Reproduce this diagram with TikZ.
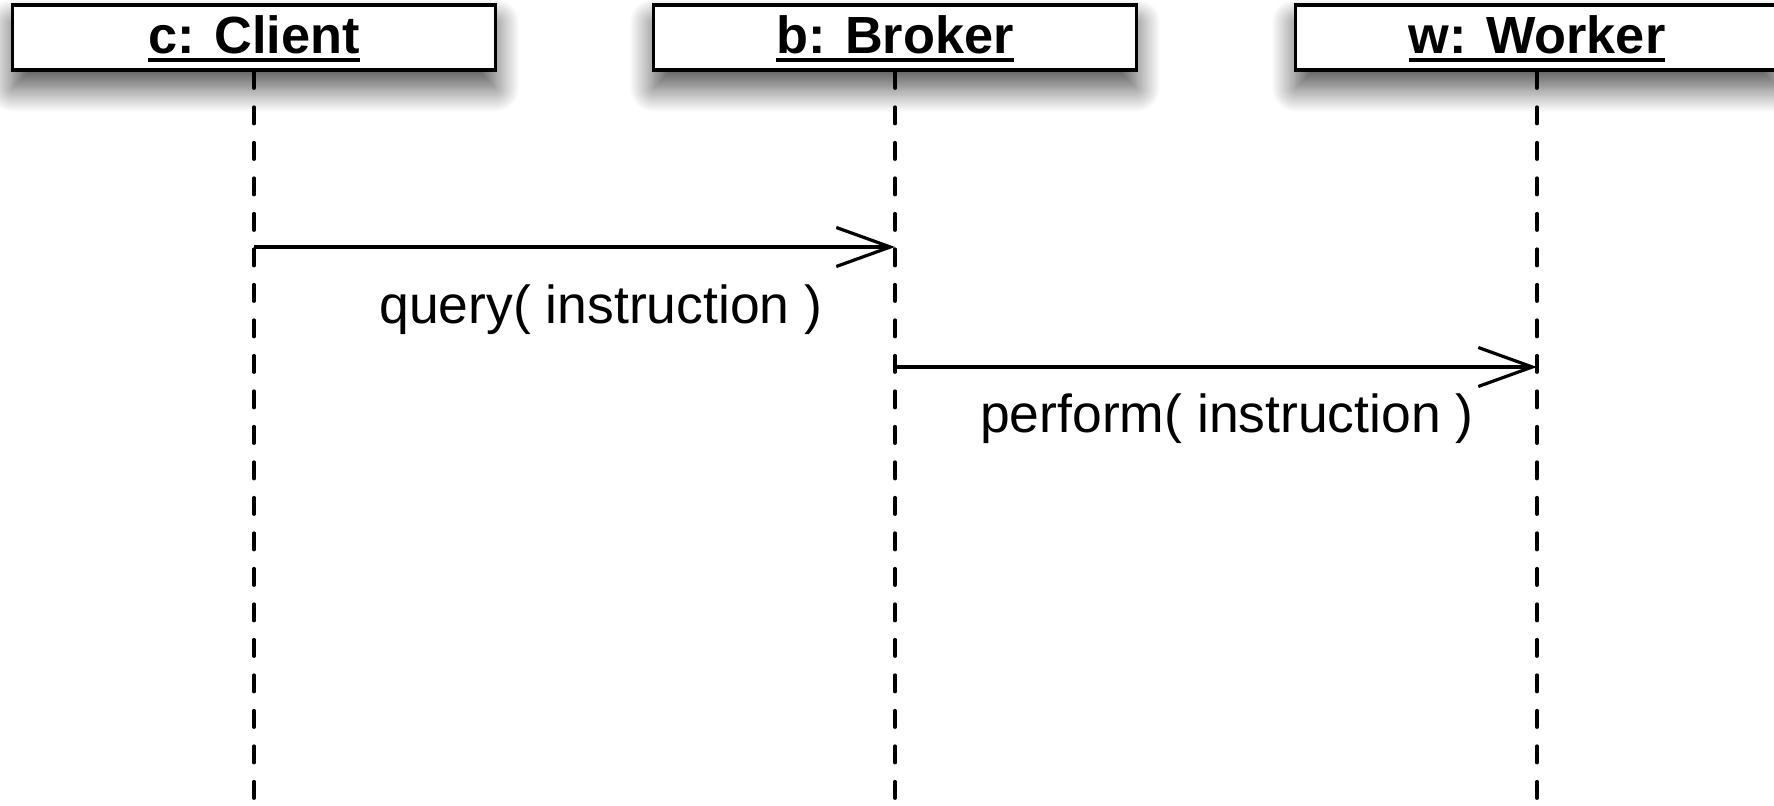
\documentclass[tikz,border=0pt]{standalone}
\usepackage{fontspec}
\setmainfont{Liberation Sans}
\usetikzlibrary{arrows.meta,shadows.blur}

% underlined object name, rule placed just below the baseline
\newcommand\objname[1]{\setbox0\hbox{#1}\leavevmode\rlap{\vrule height -2pt depth 4pt width \wd0}\box0}

\tikzset{
  object/.style={draw=black, line width=1.65pt, fill=white,
    minimum width=241.5pt, minimum height=32.5pt, inner sep=0pt,
    text height=20.5pt, text depth=4pt,
    font=\fontsize{26.15pt}{30pt}\selectfont\bfseries,
    blur shadow={shadow xshift=0pt, shadow yshift=-9pt,
      shadow blur radius=12pt, shadow opacity=70, shadow blur steps=20}},
  lifeline/.style={line width=1.75pt, line cap=round,
    dash pattern=on 8.25pt off 9.5pt},
  message/.style={line width=1.6pt,
    -{Straight Barb[length=27pt, width=19.5pt, line width=1.6pt]}},
  msglabel/.style={anchor=base, inner sep=0pt,
    font=\fontsize{26.75pt}{30pt}\selectfont}
}

\begin{document}
\begin{tikzpicture}[x=0.5pt, y=-0.5pt]
  \useasboundingbox (0,0) rectangle (1774,806);

  % object heads
  \node[object] (client) at (254,37.5) {\objname{c: Client}};
  \node[object] (broker) at (895,37.5) {\objname{b: Broker}};
  \node[object] (worker) at (1537,37.5) {\objname{w: Worker}};

  % lifeline ends at the bottom of the page
  \coordinate (clientEnd) at (254,806);
  \coordinate (brokerEnd) at (895,806);
  \coordinate (workerEnd) at (1537,806);

  \draw[lifeline] (client.south) -- (clientEnd);
  \draw[lifeline] (broker.south) -- (brokerEnd);
  \draw[lifeline] (worker.south) -- (workerEnd);

  % message end points on the lifelines
  \coordinate (q1) at (254,247);
  \coordinate (q2) at (895,247);
  \coordinate (p1) at (895,367);
  \coordinate (p2) at (1537,367);

  \draw[message] (q1) -- (q2);
  \draw[message] (p1) -- (p2);

  \node[msglabel] (queryLbl) at (601,324) {query( instruction )};
  \node[msglabel] (performLbl) at (1227,433) {perform( instruction )};
\end{tikzpicture}
\end{document}
